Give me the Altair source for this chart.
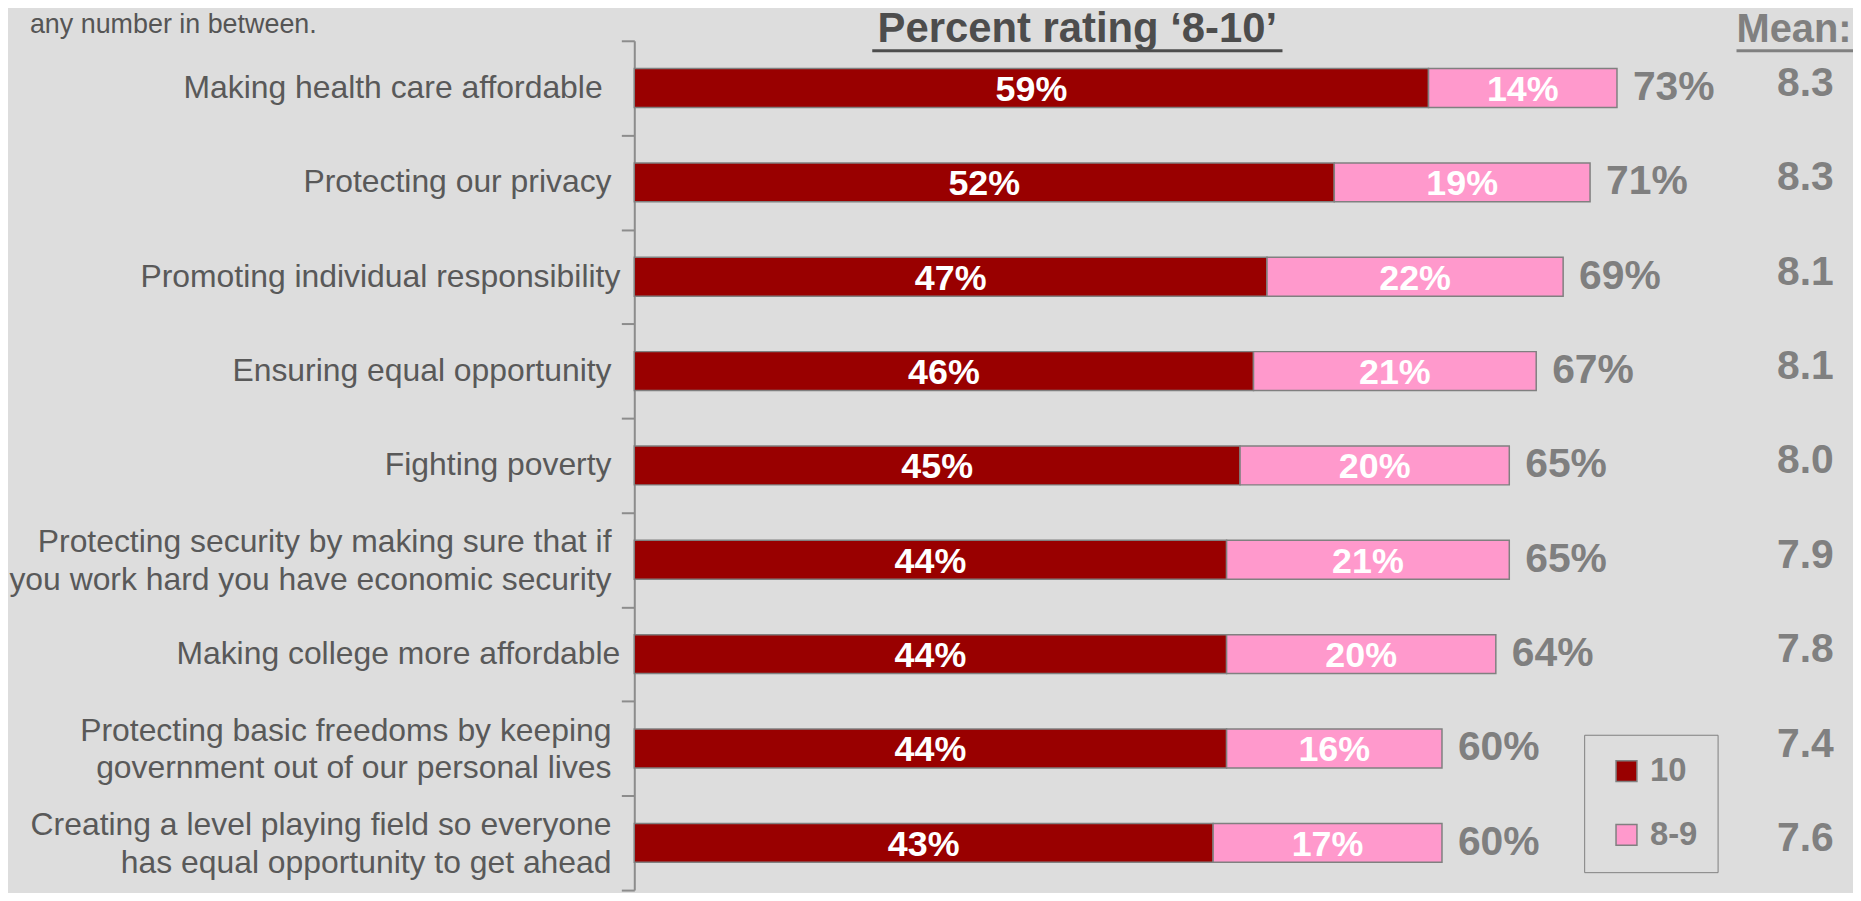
import altair as alt
import pandas as pd

categories = [
    "Making health care affordable",
    "Protecting our privacy",
    "Promoting individual responsibility",
    "Ensuring equal opportunity",
    "Fighting poverty",
    "Protecting security by making sure that if|you work hard you have economic security",
    "Making college more affordable",
    "Protecting basic freedoms by keeping|government out of our personal lives",
    "Creating a level playing field so everyone|has equal opportunity to get ahead",
]
# trailing blanks that the original labels carry
trailing_blanks = [2, 1, 0, 1, 1, 1, 0, 1, 1]
rating_10 = [59, 52, 47, 46, 45, 44, 44, 44, 43]
rating_8_9 = [14, 19, 22, 21, 20, 21, 20, 16, 17]
totals = [73, 71, 69, 67, 65, 65, 64, 60, 60]
means = [8.3, 8.3, 8.1, 8.1, 8.0, 7.9, 7.8, 7.4, 7.6]
series = ["10", "8-9"]
colors = ["#990000", "#ff99cc"]

rows = []
for c, a, b in zip(categories, rating_10, rating_8_9):
    rows.append({"cat": c, "seg": "10", "start": 0, "end": a, "mid": a / 2, "lab": f"{a}%", "ord": 0})
    rows.append({"cat": c, "seg": "8-9", "start": a, "end": a + b, "mid": a + b / 2, "lab": f"{b}%", "ord": 1})
bars = pd.DataFrame(rows)


def shown(label, blanks):
    tail = "\u00a0" * blanks + "\u200b" if blanks else ""
    return "|".join(part + tail for part in label.split("|"))


summary = pd.DataFrame({
    "cat": categories,
    "shown": [shown(c, n) for c, n in zip(categories, trailing_blanks)],
    "lines": [len(c.split("|")) for c in categories],
    "total": totals,
    "tlab": [f"{t}%" for t in totals],
    "mean": [f"{m:.1f}" for m in means],
})

FONT = "Liberation Sans"
W, H = 1224, 853
XMAX = W / 13.52
xs = alt.Scale(domain=[0, XMAX], nice=False, zero=False)
ys = alt.Scale(domain=categories, paddingInner=0, paddingOuter=0)

yaxis = alt.Axis(
    title=None, labels=False,
    tickBand="extent", tickSize=13, tickWidth=2, tickColor="#8c8c8c",
    domainColor="#8c8c8c", domainWidth=2, grid=False, orient="left",
)

Y = alt.Y("cat:N", scale=ys, axis=yaxis)

base_bar = alt.Chart(bars).mark_bar(
    stroke="#808080", strokeWidth=1.5, height=alt.RelativeBandSize(0.412)
).encode(
    y=Y,
    x=alt.X("start:Q", scale=xs, axis=None),
    x2="end:Q",
    color=alt.Color(
        "seg:N",
        scale=alt.Scale(domain=series, range=colors),
        legend=alt.Legend(
            orient="none", legendX=954, legendY=697, title=None,
            padding=20, strokeColor="#808080", fillColor="#dddddd",
            labelFont=FONT, labelFontSize=33, labelFontWeight="bold", labelColor="#7f7f7f",
            symbolType="square", symbolSize=441, symbolStrokeColor="#808080",
            symbolStrokeWidth=1.5, symbolOffset=6, rowPadding=30, labelOffset=7,
        ),
    ),
    order="ord:Q",
)

label_style = dict(font=FONT, fontSize=32, color="#595959", align="right", baseline="middle")
labels_one = alt.Chart(summary).transform_filter("datum.lines == 1").mark_text(**label_style).encode(
    y=Y, x=alt.value(-14), text="shown:N"
)
labels_two = alt.Chart(summary).transform_filter("datum.lines == 2").mark_text(
    lineBreak="|", lineHeight=38, dy=-18, **label_style
).encode(
    y=Y, x=alt.value(-14), text="shown:N"
)

inner = alt.Chart(bars).mark_text(
    font=FONT, fontSize=36, fontWeight="bold", color="white", baseline="middle", dy=2
).encode(
    y=Y,
    x=alt.X("mid:Q", scale=xs, axis=None),
    text="lab:N",
)

tot = alt.Chart(summary).mark_text(
    font=FONT, fontSize=41, fontWeight="bold", color="#7f7f7f", baseline="middle", align="left", dx=16
).encode(
    y=Y,
    x=alt.X("total:Q", scale=xs, axis=None),
    text="tlab:N",
)

mean_txt = alt.Chart(summary).mark_text(
    font=FONT, fontSize=41, fontWeight="bold", color="#808080", baseline="middle", align="center", dy=-4
).encode(
    y=Y,
    x=alt.datum(87.0, scale=xs),
    text="mean:N",
)

one = pd.DataFrame({"t": ["Percent rating \u20188-10\u2019"], "m": ["Mean:"], "n": ["any number in between."]})

title_txt = alt.Chart(one).mark_text(
    font=FONT, fontSize=42, fontWeight="bold", color="#4d4d4d", align="center", baseline="alphabetic"
).encode(x=alt.value(445), y=alt.value(1), text="t:N")
title_line = alt.Chart(one).mark_rule(color="#4d4d4d", strokeWidth=3).encode(
    x=alt.value(239), x2=alt.value(651), y=alt.value(10)
)
mean_head = alt.Chart(one).mark_text(
    font=FONT, fontSize=40, fontWeight="bold", color="#808080", align="left", baseline="alphabetic"
).encode(x=alt.value(1107), y=alt.value(1), text="m:N")
mean_line = alt.Chart(one).mark_rule(color="#808080", strokeWidth=3).encode(
    x=alt.value(1107), x2=alt.value(1224), y=alt.value(10)
)
note = alt.Chart(one).mark_text(
    font=FONT, fontSize=27, color="#555555", align="left", baseline="alphabetic"
).encode(x=alt.value(-607), y=alt.value(-8), text="n:N")

chart = alt.layer(
    base_bar, labels_one, labels_two, inner, tot, mean_txt,
    title_txt, title_line, mean_head, mean_line, note
).properties(
    width=W, height=H,
    autosize=alt.AutoSizeParams(type="none"),
    padding={"left": 629, "top": 31, "right": 0, "bottom": 1},
    background="#dddddd",
).configure_view(stroke=None).configure(font=FONT)

chart.save("out.html", embed_options={"renderer": "svg", "actions": False})
